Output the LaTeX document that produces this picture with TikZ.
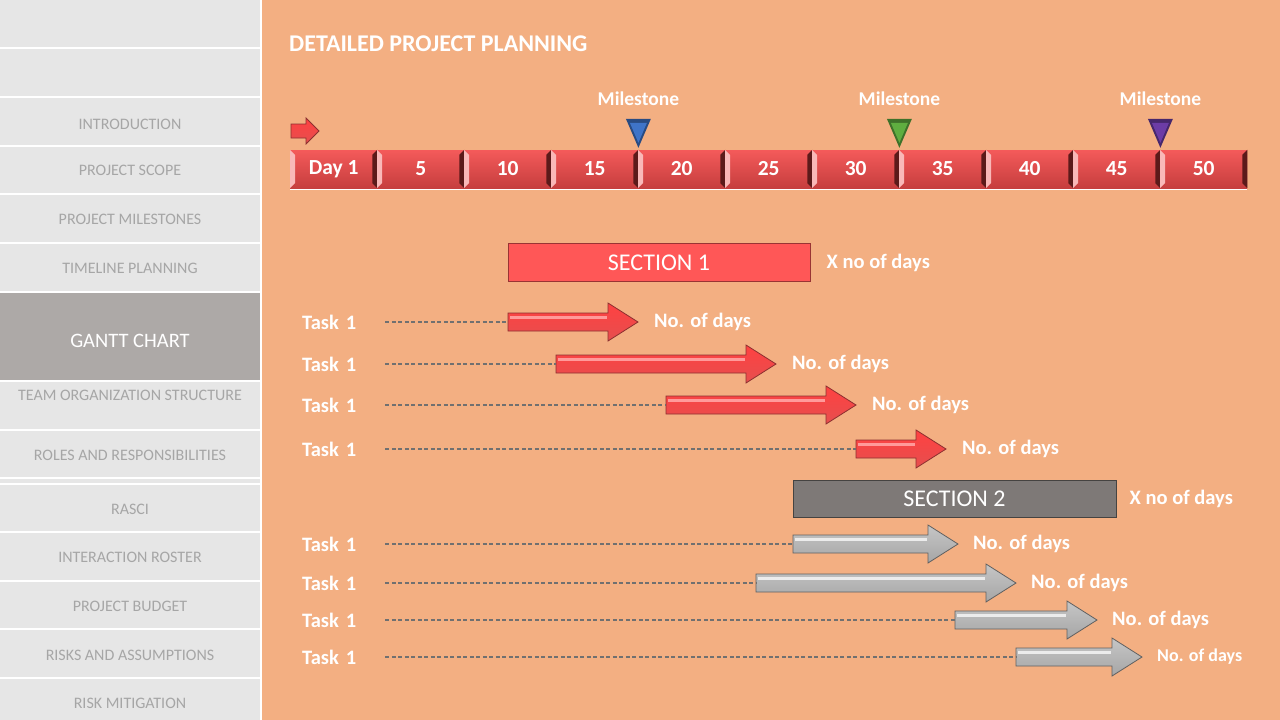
\documentclass[tikz,border=0pt]{standalone}
\usepackage{fontspec}
\setmainfont{Carlito}
\usepackage{tikz}
\usepackage{xcolor}
\usetikzlibrary{positioning,calc}

\definecolor{pagebg}{HTML}{F3AF82}
\definecolor{menubg}{HTML}{E6E6E6}
\definecolor{menutxt}{HTML}{A6A6A6}
\definecolor{menuact}{HTML}{ADA9A7}
\definecolor{barhi}{HTML}{F45A5A}
\definecolor{barred}{HTML}{DA4545}
\definecolor{barlow}{HTML}{C63E3E}
\definecolor{bevlight}{HTML}{F9B8B8}
\definecolor{bevdark}{HTML}{5C1A1A}
\definecolor{secred}{HTML}{FF5757}
\definecolor{secgray}{HTML}{7E7977}
\definecolor{dashgray}{HTML}{707070}
\definecolor{msblue}{HTML}{3F74C8}
\definecolor{msgreen}{HTML}{5FAE40}
\definecolor{mspurple}{HTML}{6C3CA6}

\tikzset{
  redarr/.style={top color=red!25!secred, bottom color=secred!90!black, draw=secred!55!black, line width=0.8pt},
  redhi/.style={draw=white!40!secred, line width=2.5pt},
  grayarr/.style={top color=white!25!gray!60, bottom color=gray!70, draw=gray!75!black, line width=0.8pt},
  grayhi/.style={draw=white!85!gray, line width=2.5pt},
}

% arrow bar of a task: name, colour kind, start x, end x, row y
\newcommand{\taskarrow}[5]{%
  \coordinate (#1) at (#3,#5);
  \coordinate (#1-tip) at (#4,#5);
  \path[#2arr] (#3,{#5-9}) -- ({#4-30},{#5-9}) -- ({#4-30},{#5-19}) -- (#1-tip)
    -- ({#4-30},{#5+19}) -- ({#4-30},{#5+9}) -- (#3,{#5+9}) -- cycle;
  \draw[#2hi] ({#3+2},{#5-4.5}) -- ({#4-31},{#5-4.5});
}

\begin{document}
\begin{tikzpicture}[x=1pt,y=-1pt,
  menutext/.style={text=menutxt, inner sep=0, font=\fontsize{16}{18}\selectfont},
  dayseg/.style={anchor=west, minimum width=87, minimum height=38, inner sep=0,
    top color=barhi, middle color=barred, bottom color=barlow,
    text=white, font=\bfseries\fontsize{21.5}{24}\selectfont},
  mslab/.style={inner sep=0, text=white, font=\bfseries\fontsize{19.5}{22}\selectfont},
  secbar/.style={minimum height=38, inner sep=0, line width=1pt, text=white,
    font=\fontsize{24}{26}\selectfont},
  note/.style={inner sep=0, text=white, font=\bfseries\fontsize{20.5}{23}\selectfont},
  tasklab/.style={anchor=west, text width=83, inner sep=0, align=left, text=white,
    font=\bfseries\fontsize{20.5}{23}\selectfont},
  dashline/.style={dashgray, line width=1.5pt, dash pattern=on 4pt off 2.5pt}]
\useasboundingbox (0,0) rectangle (1280,720);
\fill[pagebg] (0,0) rectangle (1280,720);

% side menu
\fill[menubg] (0,0) rectangle (260,720);
\fill[menuact] (0,292) rectangle (260,381);
\foreach \yy in {48,97,146,194,243,292,381,430,478,484,532,581,629,678}
  \draw[white, line width=1.5pt] (0,\yy) -- (260,\yy);
\draw[white, line width=2pt] (261,0) -- (261,720);
\foreach \yy/\txt [count=\i] in {124/INTRODUCTION, 170/PROJECT SCOPE, 219/PROJECT MILESTONES,
    268/TIMELINE PLANNING, 395/TEAM ORGANIZATION STRUCTURE, 455/ROLES AND RESPONSIBILITIES,
    509/RASCI, 557/INTERACTION ROSTER, 606/PROJECT BUDGET, 655/RISKS AND ASSUMPTIONS,
    703/RISK MITIGATION}
  \node[menutext] (menu\i) at (130,\yy) {\txt};
\node[menutext, text=white, font=\fontsize{20.5}{23}\selectfont] (menugantt) at (130,341) {GANTT CHART};

\node[anchor=west, inner sep=0, text=white, font=\bfseries\fontsize{24}{27}\selectfont] (title) at (289,44) {DETAILED PROJECT PLANNING};

% start marker
\path[redarr] (291,124) -- (306,124) -- (306,118) -- (319,131) -- (306,144) -- (306,138) -- (291,138) -- cycle;

% timeline
\foreach \lab [count=\i from 0] in {Day 1,5,10,15,20,25,30,35,40,45,50} {
  \node[dayseg] (d\i) at ({290+87*\i},169) {\lab};
  \fill[bevlight] (d\i.north west) -- ++(5,5) -- ([shift={(5,-5)}]d\i.south west) -- (d\i.south west) -- cycle;
  \fill[bevdark] (d\i.north east) -- ++(-5,5) -- ([shift={(-5,-5)}]d\i.south east) -- (d\i.south east) -- cycle;
}
\draw[white, line width=1.2pt] ([yshift=-1.5pt]d0.south west) -- ([yshift=-1.5pt]d10.south east);

% milestones
\coordinate (ms1) at ([yshift=2pt]d3.north east);
\coordinate (ms2) at ([yshift=2pt]d6.north east);
\coordinate (ms3) at ([yshift=2pt]d9.north east);
\foreach \m/\c in {ms1/msblue, ms2/msgreen, ms3/mspurple} {
  \fill[\c!65!black] (\m) -- ++(-12.5,-29) -- ++(25,0) -- cycle;
  \fill[\c] ([yshift=5pt]\m) -- ++(-8.5,-20) -- ++(17,0) -- cycle;
  \node[mslab, above=42pt of \m] (\m-lab) {Milestone};
}

% section 1
\node[secbar, fill=secred, draw=secred!60!black, minimum width=302] (sec1) at (659,262.5) {SECTION 1};
\node[note, right=16pt of sec1] (sec1days) {X no of days};

\foreach \n/\xs/\xe/\yy in {1/508/638/322, 2/556/776/364, 3/666/856/405, 4/856/946/449} {
  \node[tasklab] (t\n) at (302,\yy) {Task 1};
  \taskarrow{a\n}{red}{\xs}{\xe}{\yy}
  \draw[dashline] (t\n.east) -- (a\n);
  \node[note, right=16pt of a\n-tip] (n\n) {No. of days};
}

% section 2
\node[secbar, fill=secgray, draw=secgray!55!black, minimum width=323, minimum height=37] (sec2) at (954.5,498.5) {SECTION 2};
\node[note, right=13pt of sec2] (sec2days) {X no of days};

\foreach \n/\xs/\xe/\yy/\fs in {5/793/958/544/20.5, 6/756/1016/583/20.5, 7/955/1097/620/20.5, 8/1016/1142/657/18} {
  \node[tasklab] (t\n) at (302,\yy) {Task 1};
  \taskarrow{a\n}{gray}{\xs}{\xe}{\yy}
  \draw[dashline] (t\n.east) -- (a\n);
  \node[note, font=\bfseries\fontsize{\fs}{22}\selectfont, right=15pt of a\n-tip] (n\n) {No. of days};
}
\end{tikzpicture}
\end{document}
